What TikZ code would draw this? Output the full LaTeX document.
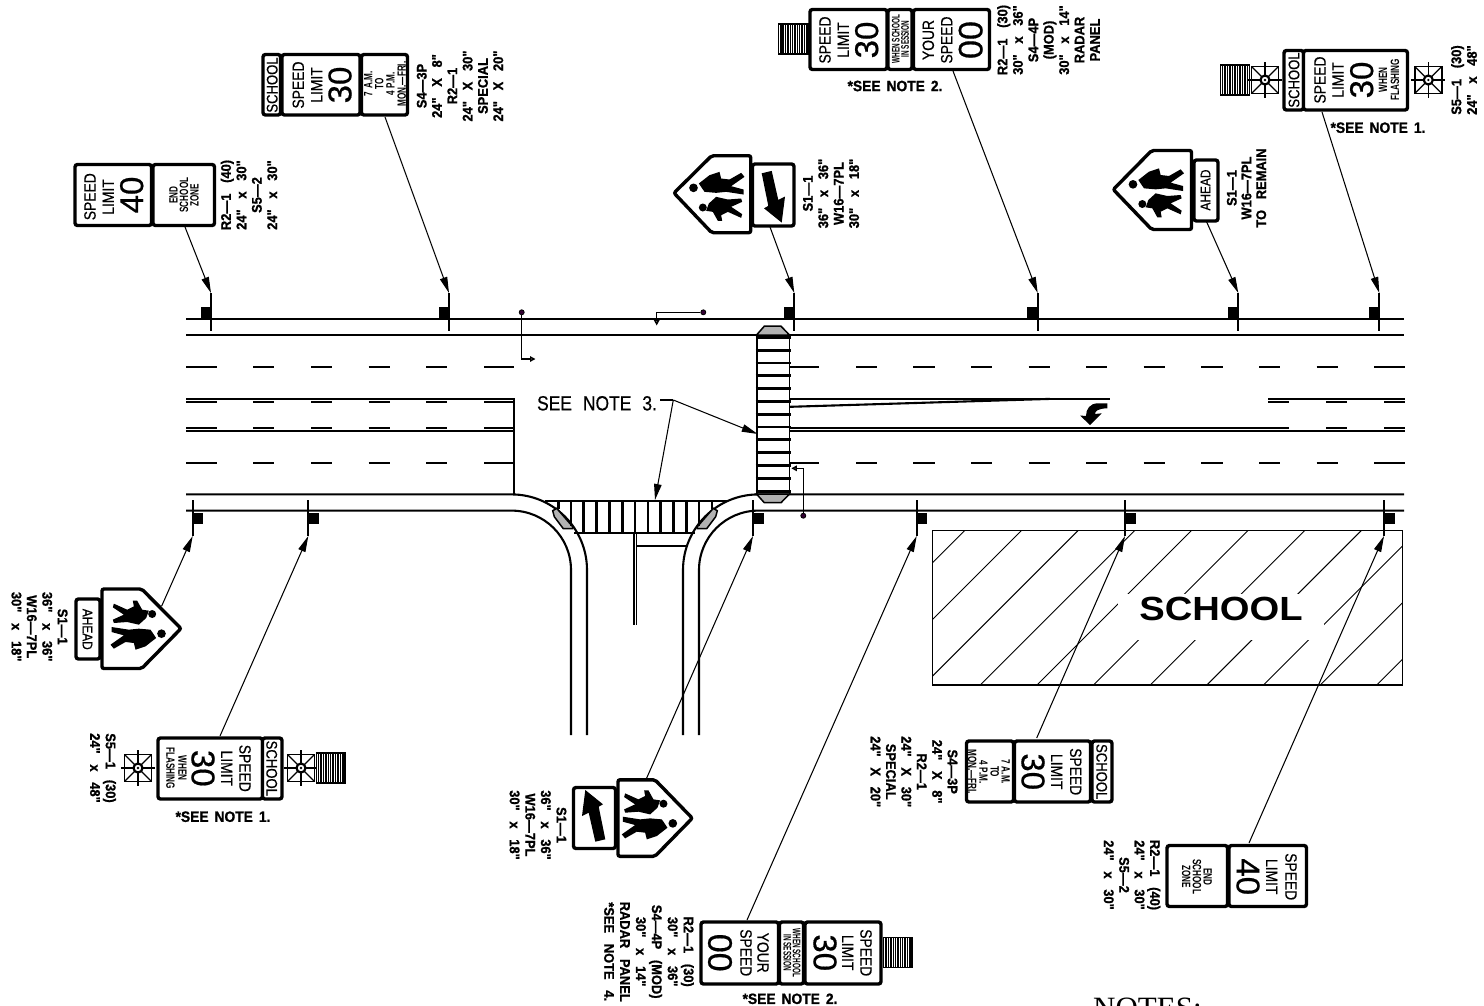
\documentclass[tikz,border=0pt]{standalone}
\usepackage{fontspec}
\usetikzlibrary{arrows.meta}
\setmainfont{Liberation Sans}
\newfontfamily\fa[FakeStretch=0.85,WordSpace=2,FakeBold=0.5]{Liberation Sans}
\newfontfamily\fd[FakeBold=0.5]{Liberation Sans}
\newfontfamily\fb[FakeStretch=0.92,WordSpace=3,FakeBold=1]{Liberation Sans Bold}
\newfontfamily\fc[FakeStretch=0.68]{Liberation Sans Bold}
\newfontfamily\fe[FakeStretch=0.58]{Liberation Sans Bold}
\newfontfamily\fw[FakeStretch=1.14]{Liberation Sans Bold}
\newfontfamily\fs{Liberation Serif}
\newcommand\fz[2]{\fontsize{#1}{#2}\selectfont}
\newcounter{tn}
\newcounter{pn}
\tikzset{
  x=1pt,y=-1pt,
  road/.style={line width=2.1pt},
  thinroad/.style={line width=1.8pt},
  polel/.style={line width=1.7pt},
  leader/.style={line width=1.05pt,-{Triangle[length=16pt,width=7.5pt]}},
  panel/.style={draw,line width=3.4pt,rounded corners=2.5pt,fill=white,inner sep=0pt,outer sep=0pt},
  pent/.style={draw,line width=3.4pt,rounded corners=2pt,fill=white},
  txt/.style={inner sep=0pt,outer sep=0pt,align=center},
  bar/.style={line width=2.8pt},
  endcap/.style={draw,line width=1.5pt,fill=black!30},
  hollow/.style={line width=1.4pt,-{Triangle[open,length=5.5pt,width=5.5pt]}},
  ddot/.style={circle,draw=black,line width=0.8pt,fill=black!60!violet,minimum size=5pt,inner sep=0pt},
  hatchl/.style={line width=0.9pt},
}
% panel: name x1 y1 x2 y2
\newcommand\panel[5]{\node[panel,minimum width={(#4-#2)*1pt},minimum height={(#5-#3)*1pt}] (#1) at ({(#2+#4)/2},{(#3+#5)/2}) {};}
% text: rotation x y font text
\newcommand\tx[5]{\stepcounter{tn}\node[txt,rotate=#1,font=#4] (t\arabic{tn}) at (#2,#3) {#5};}
% radar block
\newcommand\radar[4]{%
  \draw[line width=1.4pt,fill=white] (#1,#2) rectangle (#3,#4);
  \foreach \q in {1,...,16}{\draw[line width=1.05pt] ({#1+(#3-#1)*\q/17},#2) -- ({#1+(#3-#1)*\q/17},#4);}
}
% beacon at centre
\newcommand\beacon[2]{%
  \begin{scope}[shift={(#1,#2)}]
    \draw[line width=1.5pt] (-13.5,-13.5) rectangle (13.5,13.5);
    \draw[line width=1.3pt] (-13.5,-13.5) -- (13.5,13.5) (-13.5,13.5) -- (13.5,-13.5);
    \draw[line width=1.3pt] (-17,0) -- (17,0) (0,-18) -- (0,18);
    \draw[line width=2.2pt,fill=white] (0,0) circle (4.5);
    \fill (0,0) circle (1.3);
  \end{scope}
}
% pedestrians, tip of the pentagon at the origin, pointing left
\newcommand\peds[3]{%
  \begin{scope}[shift={(#1,#2)},rotate=#3,scale=0.3333]
    \fill (57,-14) circle (13);
    \fill (73,-27) -- (105,-52) -- (135,-62) -- (140,-42) -- (165,-39) -- (200,-59) -- (210,-47) -- (170,-19) -- (207,-9) -- (207,6) -- (155,-2) -- (125,1) -- (90,-2) -- cycle;
    \fill (85,45) circle (12);
    \fill (103,33) -- (125,13) -- (160,21) -- (200,18) -- (203,28) -- (170,43) -- (203,65) -- (200,76) -- (160,58) -- (140,68) -- (143,85) -- (130,85) -- (115,58) -- (95,55) -- cycle;
  \end{scope}
}
% down-pointing plate arrow, origin at the plate centre
\newcommand\plarrow[3]{%
  \begin{scope}[shift={(#1,#2)},rotate=#3]
    \fill (-11.3,-21.3) -- (-1.3,-23.7) -- (5.3,5.3) -- (12,2) -- (8.7,28) -- (-9,13.7) -- (-4.7,11.3) -- cycle;
  \end{scope}
}
% top post: name x
\newcommand\postT[2]{%
  \stepcounter{pn}\node[fill=black,minimum width=10.5pt,minimum height=11pt,inner sep=0pt,outer sep=0pt] (sq\arabic{pn}) at ({#2-5.25},312.5) {};
  \coordinate (#1) at (#2,293);
  \draw[polel] (#1) -- (#2,330.5);
}
\newcommand\postB[2]{%
  \stepcounter{pn}\node[fill=black,minimum width=10.5pt,minimum height=11pt,inner sep=0pt,outer sep=0pt] (sq\arabic{pn}) at ({#2+5.25},518.5) {};
  \coordinate (#1) at (#2,536);
  \draw[polel] (#2,500) -- (#1);
}
\begin{document}
\begin{tikzpicture}
\useasboundingbox (0,0) rectangle (1484,1005);
\fill[white] (0,0) rectangle (1484,1005);

% ---- school hatched block
\begin{scope}
  \clip (932.3,530.3) rectangle (1402.3,685);
  \foreach \k in {0,...,10}{
    \draw[hatchl] ({1495.3+56.65*\k-530.3},530.3) -- ({1495.3+56.65*\k-685},685);
  }
  \fill[white] (1118.3,594.3) rectangle (1324.3,640);
\end{scope}
\draw[line width=1.1pt] (932.3,530.3) rectangle (1402.3,685);
\tx{0}{1221}{609}{\fw\fz{33.5}{36}}{SCHOOL}

% ---- road edges
\draw[road] (186,318.6) -- (1404,318.6);
\draw[road] (186,334.6) -- (1404,334.6);
\draw[road] (186,494.4) -- (511.5,494.4) .. controls (553.2,494.4) and (587,528.3) .. (587,570) -- (587,735);
\draw[road] (186,510.6) -- (511.5,510.6) .. controls (544.4,510.6) and (571,537.1) .. (571,570) -- (571,735);
\draw[road] (1404,494.4) -- (758.5,494.4) .. controls (716.8,494.4) and (683,528.3) .. (683,570) -- (683,735);
\draw[road] (1404,510.6) -- (758.5,510.6) .. controls (725.6,510.6) and (699,537.1) .. (699,570) -- (699,735);

% ---- lane dashes
\foreach \a/\b in {186/217,253/274,311/332,368.5/390,426/447,484/514,790/819,856/877,913/934.5,971/992,1028.5/1050,1086/1107,1143.7/1164.7,1201/1222.7,1259/1280,1316.7/1337.7,1374/1405}{
  \draw[road] (\a,366.6) -- (\b,366.6);
  \draw[road] (\a,462.7) -- (\b,462.7);
}
\foreach \a/\b in {186/217,253/274,311/332,368.5/390,426/447,484/514,1268/1289,1326/1347,1384/1405}{
  \draw[road] (\a,401.6) -- (\b,401.6);
}
\foreach \a/\b in {186/217,253/274,311/332,368.5/390,426/447,484/514,790/1289,1326/1347,1384/1405}{
  \draw[road] (\a,427.6) -- (\b,427.6);
}
% ---- median
\draw[thinroad] (186,398.7) -- (514,398.7) -- (514,494.4);
\draw[thinroad] (186,430.7) -- (514,430.7);
\draw[road] (790,398.7) -- (1110,398.7);
\draw[road] (790,406.8) -- (1050,398.9);
\draw[road] (790,430.7) -- (1405,430.7);
\draw[road] (1268,398.7) -- (1405,398.7);
% ---- turn arrow
\fill (1107.3,403.3) -- (1098,403.3) .. controls (1090,403.3) and (1086,409) .. (1086,416) -- (1080,415.5) -- (1090,425) -- (1101.7,413.3) -- (1095,414) .. controls (1095,411) and (1098,408.5) .. (1107.3,408.3) -- cycle;

% ---- side road median and stop bar
\draw[line width=1.3pt] (634,533) -- (634,625);
\draw[line width=1.3pt] (636.8,533) -- (636.8,625);
\draw[line width=1.8pt] (636.8,545.7) -- (686.5,545.7);

% ---- long crosswalk
\draw[endcap] (756.5,335) -- (764.3,326.2) -- (781,326.2) -- (789.5,335) -- cycle;
\draw[endcap] (756.5,494) -- (764.3,502.7) -- (781,502.7) -- (789.5,494) -- cycle;
\draw[line width=1.9pt] (757,335) -- (757,494) (789.5,335) -- (789.5,494);
\foreach \q in {0,...,12}{
  \draw[bar] (755.5,{337.3+12.82*\q}) -- (791,{337.3+12.82*\q});
}
% ---- side crosswalk
\draw[line width=1.9pt] (545,501) -- (726.7,501);
\draw[line width=1.9pt] (574,533.3) -- (695,533.3);
\draw[endcap] (552.7,510.7) -- (556.7,508.3) -- (572.7,526.7) -- (572.7,528.7) -- (563.3,528.7) -- (554.3,516.7) -- cycle;
\draw[endcap] (717.3,510.7) -- (713.3,508.3) -- (697.3,526.7) -- (697.3,528.7) -- (706.7,528.7) -- (715.7,516.7) -- cycle;
\foreach \p/\e in {558.3/509,571/526,583.7/533.3,596.7/533.3,609.3/533.3,622.3/533.3,635/533.3,648/533.3,660.7/533.3,673.7/533.3,686.3/533.3,699/526,712/509}{
  \draw[bar] (\p,500) -- (\p,\e);
}

% ---- detector / button lines
\node[ddot] (d1) at (521.7,312.3) {};
\node[ddot] (d2) at (703.3,312.3) {};
\node[ddot] (d3) at (803.3,515.7) {};
\coordinate (a1) at (535.5,359);
\coordinate (a2) at (656.7,325.5);
\coordinate (a3) at (791.3,468.3);
\draw[hollow] (d1) -- (521.7,359) -- (a1);
\draw[hollow] (d2) -- (656.7,312.3) -- (a2);
\draw[hollow] (d3) -- (803.3,468.3) -- (a3);

% ---- posts
\postT{pA}{211}
\postT{pB}{449}
\postT{pC}{794.3}
\postT{pD}{1037.7}
\postT{pE}{1238.3}
\postT{pF}{1379.3}
\postB{qA}{192.7}
\postB{qB}{308.3}
\postB{qC}{753}
\postB{qD}{916.7}
\postB{qE}{1125}
\postB{qF}{1384}

% ---- top signs
\panel{a1p}{75}{164.5}{151.5}{225.5}
\panel{a2p}{153}{164.5}{214.5}{225.5}
\tx{90}{90}{196.7}{\fa\fz{16.3}{19}}{SPEED}
\tx{90}{108.3}{197}{\fa\fz{16.3}{19}}{LIMIT}
\tx{90}{131.7}{195}{\fd\fz{33}{36}}{40}
\tx{90}{184}{195}{\fc\fz{12}{10.5}}{END\\SCHOOL\\ZONE}
\tx{90}{249}{195}{\fb\fz{14}{15.4}}{R2—1 (40)\\24" x 30"\\S5—2\\24" x 30"}

\panel{b1p}{263}{54.5}{280.5}{115}
\panel{b2p}{282}{54.5}{360}{115}
\panel{b3p}{361.5}{54.5}{407.5}{115}
\tx{90}{272.2}{85}{\fa\fz{15.4}{18}}{SCHOOL}
\tx{90}{298.3}{85}{\fa\fz{16.3}{19}}{SPEED}
\tx{90}{316.7}{85}{\fa\fz{16.3}{19}}{LIMIT}
\tx{90}{340}{85}{\fd\fz{33}{36}}{30}
\tx{90}{385}{84}{\fc\fz{12}{11.2}}{7\hspace{3pt}A.M.\\TO\\4\hspace{3pt}P.M.\\MON.—FRI.}
\tx{90}{460}{86}{\fb\fz{14}{15.3}}{S4—3P\\24" X 8"\\R2—1\\24" X 30"\\SPECIAL\\24" X 20"}

\radar{778.5}{24}{808}{54}
\panel{c1p}{810}{9.5}{887}{69.5}
\panel{c2p}{888}{9.5}{912}{69.5}
\panel{c3p}{913.5}{9.5}{989.5}{69.5}
\tx{90}{825}{40}{\fa\fz{16.3}{19}}{SPEED}
\tx{90}{843.3}{40}{\fa\fz{16.3}{19}}{LIMIT}
\tx{90}{866.7}{40}{\fd\fz{33}{36}}{30}
\tx{90}{900.5}{39}{\fe\fz{11}{9.2}}{WHEN SCHOOL\\IN SESSION}
\tx{90}{928.3}{40}{\fa\fz{16.3}{19}}{YOUR}
\tx{90}{946.7}{40}{\fa\fz{16.3}{19}}{SPEED}
\tx{90}{970.7}{40}{\fd\fz{34}{36}}{00}
\tx{90}{1048.5}{40}{\fb\fz{14}{15.4}}{R2—1 (30)\\30" x 36"\\S4—4P\\(MOD)\\30" x 14"\\RADAR\\PANEL}
\tx{0}{895}{86}{\fb\fz{15}{16}}{*SEE\hspace{6pt}NOTE\hspace{6pt}2.}

\draw[pent] (674,193) -- (711.7,155.7) -- (750.7,155.7) -- (750.7,232.7) -- (711.7,232.7) -- cycle;
\peds{674.5}{192.5}{0}
\panel{d1p}{752.5}{164}{794}{226}
\plarrow{773}{194.6}{0}
\tx{90}{831}{193.5}{\fb\fz{14}{15.4}}{S1—1\\36" x 36"\\W16—7PL\\30" x 18"}

\draw[pent] (1113.3,189.5) -- (1151.7,150.5) -- (1191.5,150.5) -- (1191.5,229.5) -- (1151.7,229.5) -- cycle;
\peds{1114}{189}{0}
\panel{e1p}{1194}{160}{1218}{221}
\tx{90}{1205.5}{190}{\fa\fz{14}{16}}{AHEAD}
\tx{90}{1246.5}{188}{\fb\fz{14}{14.7}}{S1—1\\W16—7PL\\TO REMAIN}

\radar{1220.7}{65}{1249.3}{95}
\beacon{1265}{80}
\beacon{1428.3}{80}
\panel{f1p}{1284}{50.5}{1303.5}{110}
\panel{f2p}{1303.5}{50.5}{1407.5}{110}
\tx{90}{1294}{80}{\fa\fz{15.4}{18}}{SCHOOL}
\tx{90}{1320}{80}{\fa\fz{16.3}{19}}{SPEED}
\tx{90}{1338}{80}{\fa\fz{16.3}{19}}{LIMIT}
\tx{90}{1361.7}{80}{\fd\fz{33}{36}}{30}
\tx{90}{1389}{80}{\fc\fz{12}{12}}{WHEN\\FLASHING}
\tx{90}{1464}{80}{\fb\fz{14}{15.6}}{S5—1 (30)\\24" x 48"}
\tx{0}{1378}{127.7}{\fb\fz{15}{16}}{*SEE\hspace{6pt}NOTE\hspace{6pt}1.}

% ---- bottom signs
\draw[pent] (181,628.5) -- (141.7,589) -- (102,589) -- (102,668.5) -- (141.7,668.5) -- cycle;
\peds{180.5}{629}{180}
\panel{g1p}{76}{599}{100}{659}
\tx{-90}{87.5}{629.3}{\fa\fz{14}{16}}{AHEAD}
\tx{-90}{39.5}{626.7}{\fb\fz{14}{15.4}}{S1—1\\36" x 36"\\W16—7PL\\30" x 18"}

\beacon{138}{768}
\beacon{301}{768}
\radar{316.7}{753}{345.7}{783}
\panel{h1p}{158}{738}{262.5}{799}
\panel{h2p}{262.5}{738}{282}{799}
\tx{-90}{271.7}{768.3}{\fa\fz{15.4}{18}}{SCHOOL}
\tx{-90}{245}{768.3}{\fa\fz{16.3}{19}}{SPEED}
\tx{-90}{226.7}{768.3}{\fa\fz{16.3}{19}}{LIMIT}
\tx{-90}{203}{768.3}{\fd\fz{33}{36}}{30}
\tx{-90}{176.5}{768.3}{\fc\fz{12}{12}}{WHEN\\FLASHING}
\tx{-90}{103}{768}{\fb\fz{14}{15.6}}{S5—1 (30)\\24" x 48"}
\tx{0}{223}{816.7}{\fb\fz{15}{16}}{*SEE\hspace{6pt}NOTE\hspace{6pt}1.}

\draw[pent] (692.3,818.2) -- (655,779.8) -- (618,779.8) -- (618,856.3) -- (655,856.3) -- cycle;
\peds{691.8}{818.7}{180}
\panel{i1p}{573.5}{787.5}{615.5}{848.5}
\plarrow{594}{818}{180}
\tx{-90}{538}{825}{\fb\fz{14}{15.6}}{S1—1\\36" x 36"\\W16—7PL\\30" x 18"}

\panel{j1p}{701}{922}{778.5}{984}
\panel{j2p}{779.5}{922}{803.5}{984}
\panel{j3p}{805}{922}{881}{984}
\radar{883.3}{937.3}{912.7}{967.3}
\tx{-90}{763}{952.7}{\fa\fz{16.3}{19}}{YOUR}
\tx{-90}{746}{952.7}{\fa\fz{16.3}{19}}{SPEED}
\tx{-90}{720}{952.7}{\fd\fz{34}{36}}{00}
\tx{-90}{792}{952.7}{\fe\fz{11}{9.2}}{WHEN SCHOOL\\IN SESSION}
\tx{-90}{825}{952.7}{\fd\fz{33}{36}}{30}
\tx{-90}{847.7}{952.7}{\fa\fz{16.3}{19}}{LIMIT}
\tx{-90}{866}{952.7}{\fa\fz{16.3}{19}}{SPEED}
\tx{-90}{649}{951.7}{\fb\fz{14}{15.9}}{R2—1 (30)\\30" x 36"\\S4—4P (MOD)\\30" x 14"\\RADAR PANEL\\*SEE NOTE 4.}
\tx{0}{790}{998.8}{\fb\fz{15}{16}}{*SEE\hspace{6pt}NOTE\hspace{6pt}2.}

\panel{k1p}{966.5}{741}{1013.5}{802}
\panel{k2p}{1014.5}{741}{1090.5}{802}
\panel{k3p}{1092}{741}{1112}{802}
\tx{-90}{989}{771.7}{\fc\fz{12}{11.2}}{7\hspace{3pt}A.M.\\TO\\4\hspace{3pt}P.M.\\MON.—FRI.}
\tx{-90}{1033}{771.7}{\fd\fz{33}{36}}{30}
\tx{-90}{1056.7}{771.7}{\fa\fz{16.3}{19}}{LIMIT}
\tx{-90}{1075.7}{771.7}{\fa\fz{16.3}{19}}{SPEED}
\tx{-90}{1101.7}{771.7}{\fa\fz{15.4}{18}}{SCHOOL}
\tx{-90}{914}{771.7}{\fb\fz{14}{15.4}}{S4—3P\\24" X 8"\\R2—1\\24" X 30"\\SPECIAL\\24" X 20"}

\panel{l1p}{1167}{845.5}{1227.5}{906.5}
\panel{l2p}{1229}{845.5}{1306.5}{906.5}
\tx{-90}{1197}{876.7}{\fc\fz{12}{10.8}}{END\\SCHOOL\\ZONE}
\tx{-90}{1248}{876.7}{\fd\fz{33}{36}}{40}
\tx{-90}{1271.7}{876.7}{\fa\fz{16.3}{19}}{LIMIT}
\tx{-90}{1291}{876.7}{\fa\fz{16.3}{19}}{SPEED}
\tx{-90}{1132}{875}{\fb\fz{14}{15.4}}{R2—1 (40)\\24" x 30"\\S5—2\\24" x 30"}

% ---- leaders
\coordinate (sA) at (185,227);
\coordinate (sB) at (385,117);
\coordinate (sC) at (770,227);
\coordinate (sD) at (953,71);
\coordinate (sE) at (1206.7,222);
\coordinate (sF) at (1322,112);
\coordinate (uA) at (161.7,606);
\coordinate (uB) at (220,736);
\coordinate (uC) at (646.7,778);
\coordinate (uD) at (747,920);
\coordinate (uE) at (1036.7,738);
\coordinate (uF) at (1249,843);
\foreach \s/\e in {sA/pA,sB/pB,sC/pC,sD/pD,sE/pE,sF/pF,uA/qA,uB/qB,uC/qC,uD/qD,uE/qE,uF/qF}{
  \draw[leader] (\s) -- (\e);
}

% ---- note 3
\tx{0}{597}{403.3}{\fa\fz{20.5}{22}}{SEE\hspace{11pt}NOTE\hspace{11pt}3.}
\coordinate (n3a) at (660,400);
\coordinate (n3b) at (673.3,400);
\coordinate (n3c) at (757.7,434);
\coordinate (n3d) at (655,500);
\draw[line width=1.05pt] (n3a) -- (n3b);
\draw[leader] (n3b) -- (n3c);
\draw[leader] (n3b) -- (n3d);

% ---- notes heading, cut by the page edge
\begin{scope}
  \clip (0,0) rectangle (1484,1005);
  \node[anchor=base west,inner sep=0pt,font=\fs\fz{31}{34}] (notes) at (1093,1018) {NOTES:};
\end{scope}
\end{tikzpicture}
\end{document}
